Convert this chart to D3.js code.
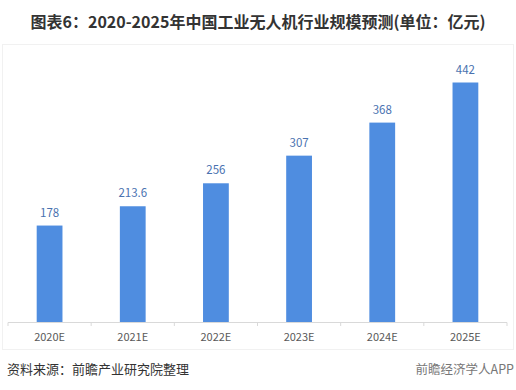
<!DOCTYPE html>
<head>
<meta charset="utf-8">
<script src="https://d3js.org/d3.v7.min.js"></script>
</head>
<style>
body { margin: 0; background: #fff; }
text { font-family: "Microsoft YaHei", "Noto Sans CJK SC", sans-serif; }
</style>
<body>
<script>
var years = ["2020E", "2021E", "2022E", "2023E", "2024E", "2025E"];
var values = [178, 213.6, 256, 307, 368, 442];
var valueLabels = ["178", "213.6", "256", "307", "368", "442"];

var W = 516, H = 390;
var svg = d3.select("body").append("svg")
    .attr("width", W)
    .attr("height", H);

// faint frame around the plot
svg.append("rect")
    .attr("x", 2.5).attr("y", 44.5)
    .attr("width", 511).attr("height", 305)
    .attr("fill", "none")
    .attr("stroke", "#f1f1f1");

svg.append("text")
    .attr("x", 258).attr("y", 28)
    .attr("text-anchor", "middle")
    .attr("font-size", 16)
    .attr("font-weight", "bold")
    .attr("fill", "#333")
    .text("图表6：2020-2025年中国工业无人机行业规模预测(单位：亿元)");

var x = d3.scaleBand().domain(years).range([8, 507]).paddingInner(0.69).paddingOuter(0.345);
var y = d3.scaleLinear().domain([0, 442]).range([322, 82.5]);

svg.selectAll(".bar")
    .data(values)
  .enter().append("rect")
    .attr("class", "bar")
    .attr("x", function(d, i) { return x(years[i]); })
    .attr("y", function(d) { return y(d); })
    .attr("width", x.bandwidth())
    .attr("height", function(d) { return y(0) - y(d); })
    .attr("fill", "#4f8de0");

svg.selectAll(".val")
    .data(values)
  .enter().append("text")
    .attr("class", "val")
    .attr("x", function(d, i) { return x(years[i]) + x.bandwidth() / 2; })
    .attr("y", function(d) { return y(d) - 9; })
    .attr("text-anchor", "middle")
    .attr("font-size", 11.5)
    .attr("fill", "#4a72b0")
    .text(function(d, i) { return valueLabels[i]; });

// x axis with ticks between categories
var axis = svg.append("g");
axis.append("line")
    .attr("x1", 8).attr("x2", 507)
    .attr("y1", 322.5).attr("y2", 322.5)
    .attr("stroke", "#d9d9d9");
var step = x.step();
var edges = years.map(function(d) { return x(d) - x.paddingInner() * step / 2; }).concat([507]);
axis.selectAll(".tk")
    .data(edges)
  .enter().append("line")
    .attr("x1", function(d) { return d; }).attr("x2", function(d) { return d; })
    .attr("y1", 322.5).attr("y2", 326)
    .attr("stroke", "#d9d9d9");
axis.selectAll(".lbl")
    .data(years)
  .enter().append("text")
    .attr("x", function(d) { return x(d) + x.bandwidth() / 2; })
    .attr("y", 341)
    .attr("text-anchor", "middle")
    .attr("font-size", 11)
    .attr("fill", "#595959")
    .text(function(d) { return d; });

svg.append("text")
    .attr("x", 7).attr("y", 374)
    .attr("font-size", 13)
    .attr("fill", "#333")
    .text("资料来源：前瞻产业研究院整理");

svg.append("text")
    .attr("x", 514).attr("y", 374)
    .attr("text-anchor", "end")
    .attr("font-size", 12.5)
    .attr("fill", "#777")
    .text("前瞻经济学人APP");
</script>
</body>
